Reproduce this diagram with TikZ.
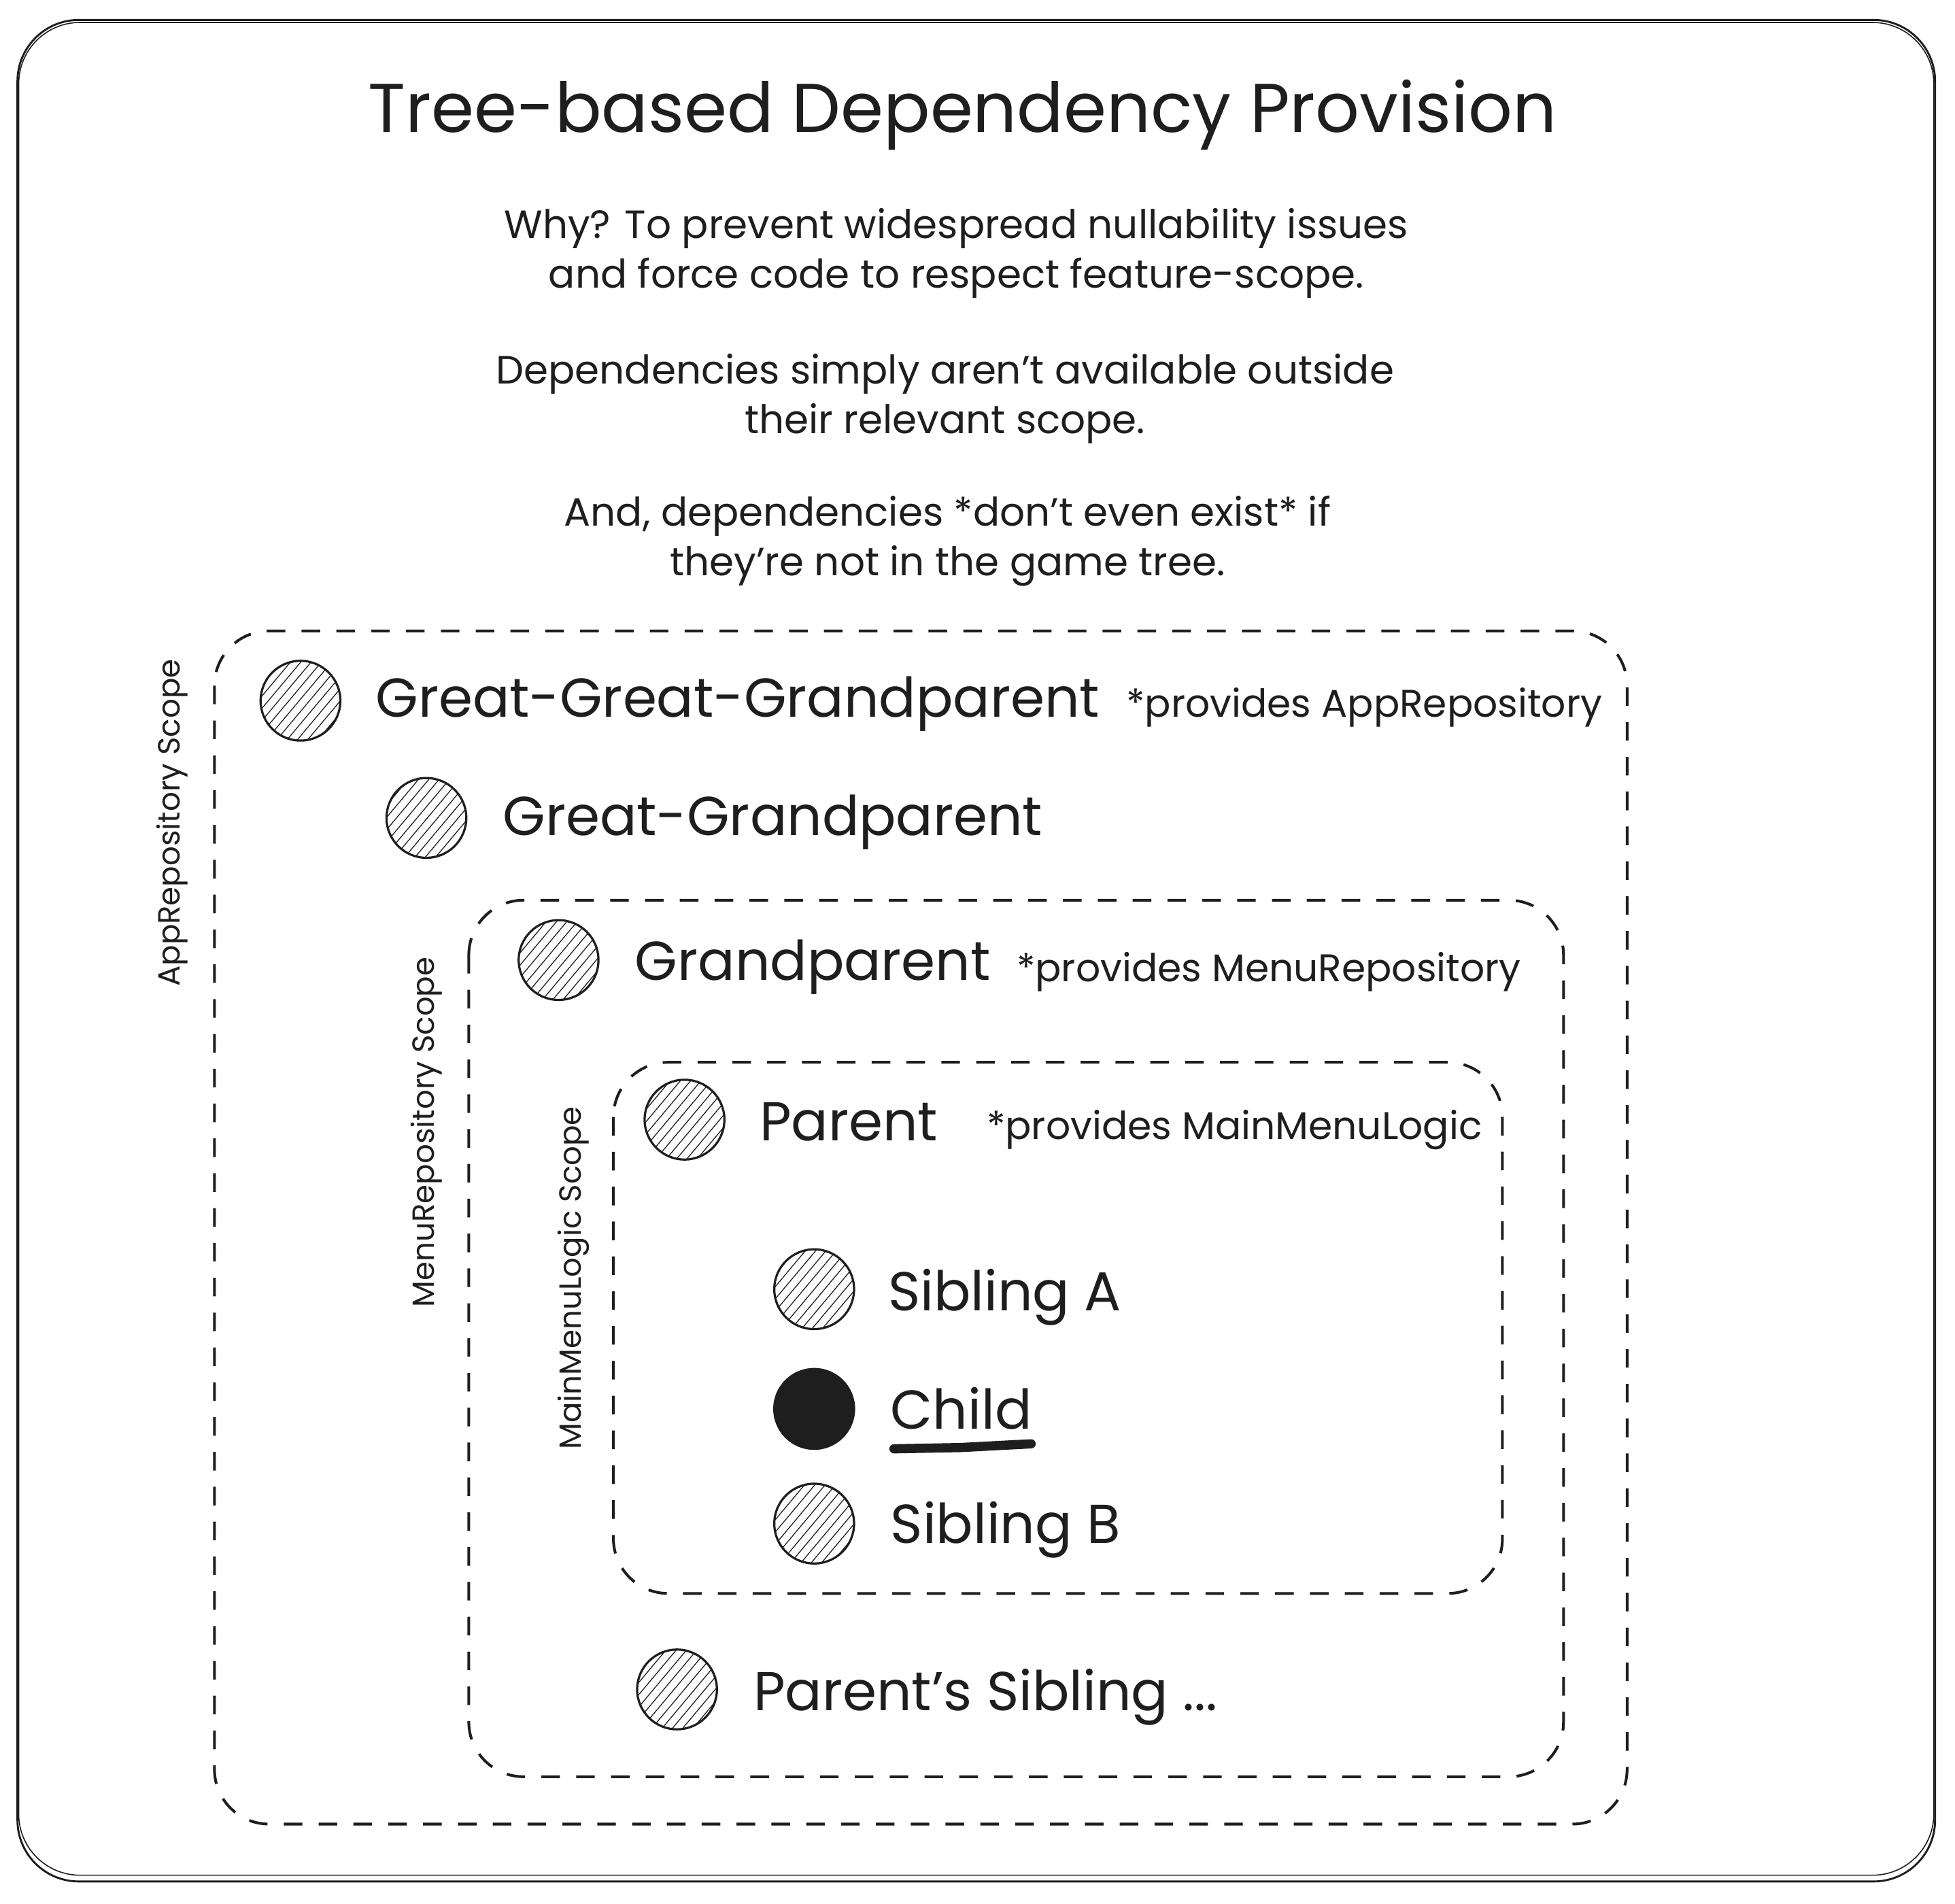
\documentclass[tikz,border=0pt]{standalone}
\usepackage{fontspec}
\setmainfont{Poppins}
\usetikzlibrary{patterns.meta}
\definecolor{ink}{HTML}{1E1E1E}
\tikzset{
  frame/.style={draw=ink, line width=0.9pt, rounded corners=28pt},
  scopebox/.style={draw=ink, line width=1.25pt, dash pattern=on 8.5pt off 7.4pt, rounded corners=25pt},
  member/.style={circle, draw=ink, line width=1pt, minimum size=1.28cm, inner sep=0pt,
    pattern={Lines[angle=50,distance=3.6pt,line width=0.4pt]}, pattern color=ink},
  current/.style={circle, draw=ink, fill=ink, line width=1pt, minimum size=1.28cm, inner sep=0pt},
  heading/.style={text=ink, font=\fontsize{31.5}{38}\selectfont},
  note/.style={text=ink, align=center, font=\fontsize{18}{22.8}\selectfont},
  level/.style={text=ink, anchor=base west, inner sep=0pt, font=\fontsize{25}{30}\selectfont},
  provides/.style={text=ink, anchor=base west, inner sep=0pt, font=\fontsize{17.6}{22}\selectfont},
  scopelabel/.style={text=ink, rotate=90, font=\fontsize{14}{16}\selectfont},
}
\begin{document}
\begin{tikzpicture}[x=0.02cm,y=-0.02cm]
 \useasboundingbox (0,0) rectangle (1568,1527);
 % outer sheet, drawn twice for the sketchy look
 \draw[frame] (14,16) rectangle (1552,1509);
 \draw[frame,line width=0.5pt] (15,18) rectangle (1551,1504);
 \node[heading] (title) at (772,92) {Tree-based Dependency Provision};
 \node[note] (why) at (767,203) {Why? To prevent widespread nullability issues\\and force code to respect feature-scope.};
 \node[note] (avail) at (758,320) {Dependencies simply aren't available outside\\their relevant scope.};
 \node[note] (exist) at (760,434) {And, dependencies *don't even exist* if\\they're not in the game tree.};
 % scopes
 \draw[scopebox] (172,506) rectangle (1305,1463);
 \draw[scopebox] (376,722) rectangle (1254,1425);
 \draw[scopebox] (492,852) rectangle (1205,1278);
 \node[scopelabel] (appscope) at (138,660) {AppRepository Scope};
 \node[scopelabel] (menuscope) at (342,908) {MenuRepository Scope};
 \node[scopelabel] (logicscope) at (460,1025) {MainMenuLogic Scope};
 % tree members
 \foreach \name/\x/\y in {ggp/241/562,gg/342/656,gp/448/770,par/549/898,siba/653/1034,sibb/653/1222,parsib/543/1355}
   \node[member] (\name) at (\x,\y) {};
 \node[current] (child) at (653,1130) {};
 \node[level] (ggplbl) at (301,575) {Great-Great-Grandparent};
 \node[provides] (ggpprov) at (903,575) {*provides AppRepository};
 \node[level] (gglbl) at (403,670) {Great-Grandparent};
 \node[level] (gplbl) at (509,786) {Grandparent};
 \node[provides] (gpprov) at (815,787) {*provides MenuRepository};
 \node[level] (parlbl) at (609,915) {Parent};
 \node[provides] (parprov) at (791,914) {*provides MainMenuLogic};
 \node[level] (sibalbl) at (712,1051) {Sibling A};
 \node[level] (childlbl) at (714,1146) {Child};
 \node[level] (sibblbl) at (714,1238) {Sibling B};
 \node[level] (parsiblbl) at (604,1372) {Parent's Sibling ...};
 \draw[ink,line width=4.2pt,line cap=round] (717,1162) -- (770,1161) -- (827,1158);
\end{tikzpicture}
\end{document}
